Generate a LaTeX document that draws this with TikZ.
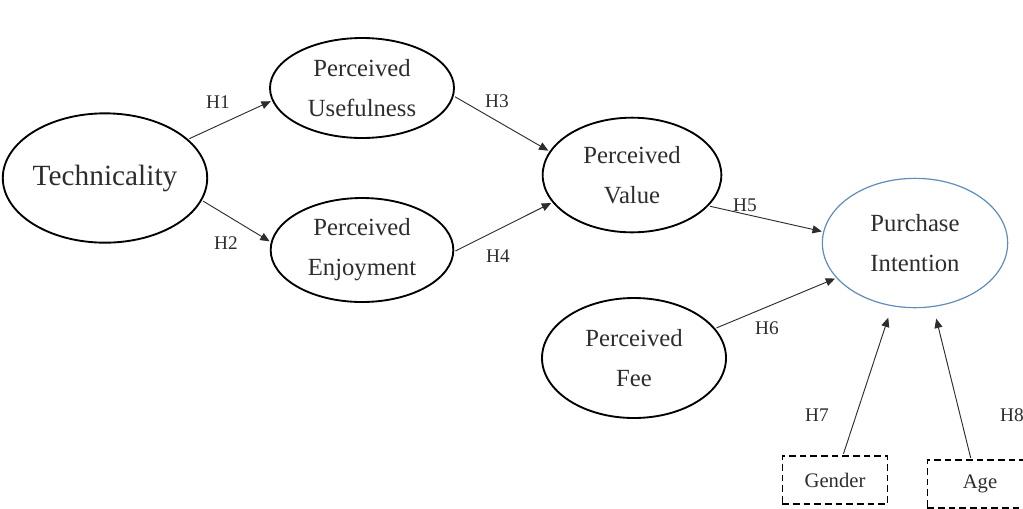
\documentclass[tikz,border=0pt]{standalone}
\usepackage{fontspec}
\setmainfont{Liberation Serif}
\usetikzlibrary{shapes.geometric,arrows.meta}
\definecolor{piblue}{RGB}{95,140,185}
\definecolor{txt}{RGB}{45,45,45}
\begin{document}
\begin{tikzpicture}[x=0.75pt,y=-0.75pt,
  ell/.style={ellipse,draw=black,text=txt,line width=1.4pt,inner sep=0pt,align=center,
    font=\fontsize{18.5}{30}\selectfont},
  arr/.style={-{Triangle[length=7pt,width=6pt]},line width=0.7pt,draw=txt,shorten <=1pt,shorten >=1pt},
  hlab/.style={text=txt,font=\fontsize{14.5}{16}\selectfont},
  modbox/.style={draw,text=txt,dash pattern=on 5pt off 3pt,line width=1.2pt,inner sep=0pt,
    minimum width=79pt,minimum height=36pt,font=\fontsize{15.5}{17}\selectfont}]
\useasboundingbox (0,0) rectangle (1023,508);
\node[ell,minimum width=138pt,minimum height=97pt,font=\fontsize{22}{25}\selectfont] (tech) at (105,178) {Technicality};
\node[ell,minimum width=138pt,minimum height=75pt] (use) at (362,88) {Perceived\\Usefulness};
\node[ell,minimum width=137pt,minimum height=78pt] (enj) at (362,250) {Perceived\\Enjoyment};
\node[ell,minimum width=134pt,minimum height=86pt] (val) at (632,175) {Perceived\\Value};
\node[ell,minimum width=138pt,minimum height=90pt] (fee) at (634,358) {Perceived\\Fee};
\node[ell,draw=piblue,line width=0.9pt,minimum width=139pt,minimum height=97pt] (pi) at (915,243) {Purchase\\Intention};
\node[modbox] (gen) at (835,480) {Gender};
\node[modbox] (age) at (980,484) {Age};
\coordinate (gtop) at (843,452);
\coordinate (atop) at (971,456);
\draw[arr] (tech.25) -- (use.188);
\draw[arr] (tech.-13) -- (enj.175);
\draw[arr] (use.-5) -- (val.164);
\draw[arr] (enj.-1) -- (val.199);
\draw[arr] (val.-22) -- (pi.173);
\draw[arr] (fee.20) -- (pi.204);
\draw[arr,shorten >=9pt] (gen.north -| gtop) -- (pi.250);
\draw[arr,shorten >=9pt] (age.north -| atop) -- (pi.286);
\node[hlab] (h1) at (218,102) {H1};
\node[hlab] (h2) at (226,243) {H2};
\node[hlab] (h3) at (497,101) {H3};
\node[hlab] (h4) at (498,256) {H4};
\node[hlab] (h5) at (745,205) {H5};
\node[hlab] (h6) at (767,328) {H6};
\node[hlab] (h7) at (817,415) {H7};
\node[hlab] (h8) at (1012,415) {H8};
\end{tikzpicture}
\end{document}
